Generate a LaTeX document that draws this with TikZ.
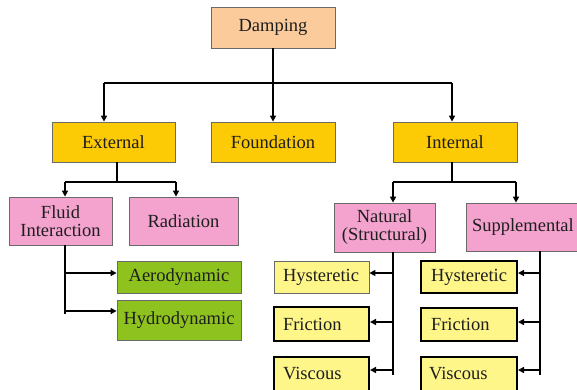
\documentclass[tikz,border=0pt]{standalone}
\usepackage{fontspec}
\setmainfont{Liberation Serif}
\usetikzlibrary{arrows.meta,calc}
\definecolor{peach}{HTML}{FCCB9B}
\definecolor{gold}{HTML}{FDCB06}
\definecolor{pinkbox}{HTML}{F3A3CD}
\definecolor{greenbox}{HTML}{8DC21F}
\definecolor{yellowbox}{HTML}{FFF68A}
\definecolor{boxline}{HTML}{6A6A6A}
\definecolor{txt}{HTML}{1E1E1E}
\begin{document}
\begin{tikzpicture}[x=1pt,y=-1pt,
  box/.style={draw=boxline, line width=0.8pt, font=\fontsize{18.5}{18}\selectfont, text=txt, inner sep=0pt, align=center},
  heavybox/.style={box, draw=black, line width=2pt},
  leftbox/.style={inner xsep=#1, align=left},
  conn/.style={line width=1.5pt, draw=black},
  arr/.style={conn, -{Triangle[length=6pt,width=6pt]}}]
\useasboundingbox (0,0) rectangle (577,389);
\fill[white] (0,0) rectangle (577,389);

% level 0
\node[box, fill=peach, minimum width=124pt, minimum height=41pt] (damp) at (273,27.5) {Damping};
% level 1
\node[box, fill=gold, minimum width=123pt, minimum height=40pt] (ext) at (113.5,142) {External};
\node[box, fill=gold, minimum width=124pt, minimum height=40pt] (found) at (273,142) {Foundation};
\node[box, fill=gold, minimum width=124pt, minimum height=40pt] (int) at (455,142) {Internal};
% level 2
\node[box, fill=pinkbox, minimum width=103pt, minimum height=48pt] (fluid) at (60.5,221) {Fluid\\Interaction};
\node[box, fill=pinkbox, minimum width=109pt, minimum height=48pt] (rad) at (183.5,221) {Radiation};
\node[box, fill=pinkbox, minimum width=101pt, minimum height=49pt] (nat) at (384.5,227.5) {Natural\\(Structural)};
\node[box, fill=pinkbox, leftbox=6pt, text width=112pt, minimum height=48pt] (sup) at (528,227) {Supplemental};
% external leaves
\node[box, fill=greenbox, minimum width=124pt, minimum height=32pt] (aero) at (179,277) {Aerodynamic};
\node[box, fill=greenbox, minimum width=124pt, minimum height=40pt] (hydro) at (179,320) {Hydrodynamic};
% natural leaves
\node[box, fill=yellowbox, leftbox=9pt, text width=77pt, minimum height=32pt] (h1) at (321.5,277) {Hysteretic};
\node[heavybox, fill=yellowbox, leftbox=9pt, text width=77pt, minimum height=34pt] (f1) at (321.5,324) {Friction};
\node[heavybox, fill=yellowbox, leftbox=9pt, text width=77pt, minimum height=34pt] (v1) at (321.5,374) {Viscous};
% supplemental leaves
\node[heavybox, fill=yellowbox, leftbox=10pt, text width=76pt, minimum height=32pt] (h2) at (469,277) {Hysteretic};
\node[heavybox, fill=yellowbox, leftbox=10pt, text width=76pt, minimum height=33pt] (f2) at (469,324.5) {Friction};
\node[heavybox, fill=yellowbox, leftbox=8pt, text width=80pt, minimum height=34pt] (v2) at (469,374) {Viscous};

% Damping -> level 1
\coordinate (b0) at (273,83);
\coordinate (bL) at (104,83);
\coordinate (bR) at (452,83);
\draw[conn] (damp.south) -- (b0);
\draw[conn] (bL) -- (bR);
\draw[arr] (bL) -- (bL |- ext.north);
\draw[arr] (b0) -- (found.north);
\draw[arr] (bR) -- (bR |- int.north);

% External -> level 2
\coordinate (e0) at (117,182);
\coordinate (eL) at (65,182);
\coordinate (eR) at (176,182);
\draw[conn] (e0 |- ext.south) -- (e0);
\draw[conn] (eL) -- (eR);
\draw[arr] (eL) -- (eL |- fluid.north);
\draw[arr] (eR) -- (eR |- rad.north);

% Internal -> level 2
\coordinate (i0) at (452,182);
\coordinate (iL) at (393,182);
\coordinate (iR) at (516,182);
\draw[conn] (i0 |- int.south) -- (i0);
\draw[conn] (iL) -- (iR);
\draw[arr] (iL) -- (iL |- nat.north);
\draw[arr] (iR) -- (iR |- sup.north);

% Fluid interaction -> leaves
\coordinate (fl) at (65,314);
\coordinate (fa) at (65,273);
\coordinate (fh) at (65,311);
\draw[conn] (fl |- fluid.south) -- (fl);
\draw[arr] (fa) -- (fa -| aero.west);
\draw[arr] (fh) -- (fh -| hydro.west);

% Natural -> leaves
\coordinate (nl) at (393,375);
\coordinate (nh) at (393,273);
\coordinate (nf) at (393,322);
\coordinate (nv) at (393,370);
\draw[conn] (nl |- nat.south) -- (nl);
\draw[arr] (nh) -- (nh -| h1.east);
\draw[arr] (nf) -- (nf -| f1.east);
\draw[arr] (nv) -- (nv -| v1.east);

% Supplemental -> leaves
\coordinate (sl) at (540,375);
\coordinate (sh) at (540,273);
\coordinate (sf) at (540,322);
\coordinate (sv) at (540,370);
\draw[conn] (sl |- sup.south) -- (sl);
\draw[arr] (sh) -- (sh -| h2.east);
\draw[arr] (sf) -- (sf -| f2.east);
\draw[arr] (sv) -- (sv -| v2.east);
\end{tikzpicture}
\end{document}
